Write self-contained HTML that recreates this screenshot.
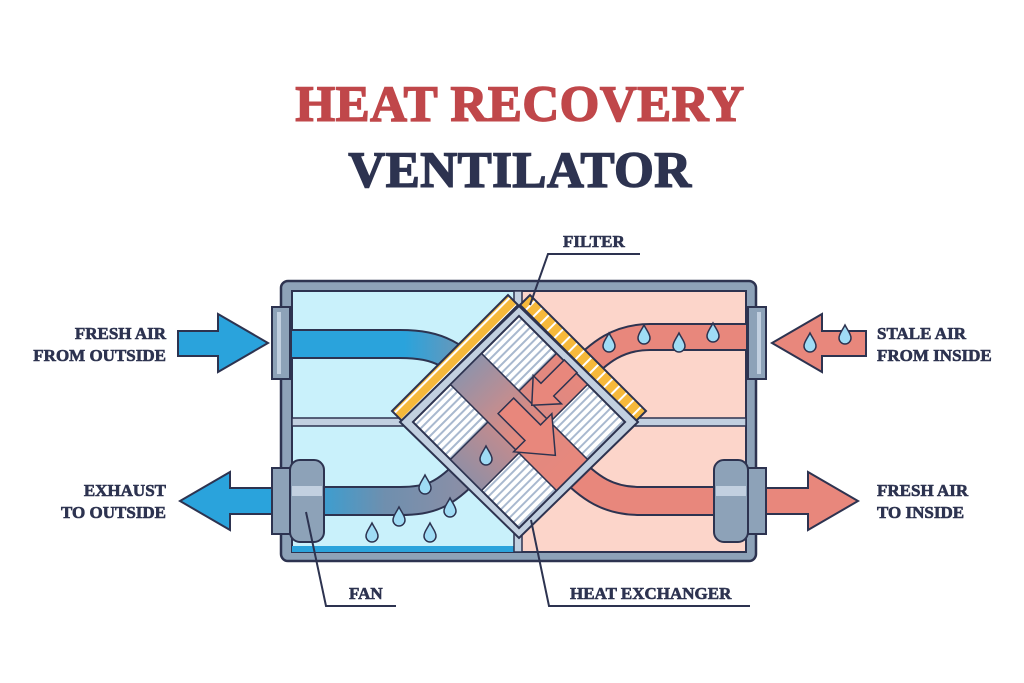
<!DOCTYPE html>
<html><head><meta charset="utf-8"><style>
html,body{margin:0;padding:0;background:#fff;}
svg{display:block}
.t{font-family:"Liberation Serif",serif;font-weight:bold;}
</style></head><body>
<svg width="1024" height="683" viewBox="0 0 1024 683" xmlns="http://www.w3.org/2000/svg">
<defs>
<linearGradient id="gTL" x1="292" y1="0" x2="480" y2="0" gradientUnits="userSpaceOnUse">
<stop offset="0" stop-color="#2aa3dc"/><stop offset="0.6" stop-color="#2aa3dc"/><stop offset="1" stop-color="#7f93ad"/></linearGradient>
<linearGradient id="gBL" x1="300" y1="0" x2="470" y2="0" gradientUnits="userSpaceOnUse">
<stop offset="0" stop-color="#2aa3dc"/><stop offset="0.5" stop-color="#6f8fae"/><stop offset="1" stop-color="#8d8fa6"/></linearGradient>
<linearGradient id="s1" x1="-82" y1="0" x2="82" y2="0" gradientUnits="userSpaceOnUse">
<stop offset="0" stop-color="#8a93ad"/><stop offset="0.55" stop-color="#e08a80"/><stop offset="1" stop-color="#e8877c"/></linearGradient>
<linearGradient id="s2" x1="0" y1="-82" x2="0" y2="82" gradientUnits="userSpaceOnUse">
<stop offset="0" stop-color="#e8877c"/><stop offset="0.45" stop-color="#d98a84"/><stop offset="1" stop-color="#8d8fa6"/></linearGradient>
<pattern id="hatch" width="6" height="6" patternUnits="userSpaceOnUse">
<rect width="6" height="6" fill="#fff"/><rect width="2" height="6" fill="#a9b9cf"/></pattern>
<pattern id="yel" width="10" height="10" patternUnits="userSpaceOnUse" patternTransform="rotate(45)">
<rect width="10" height="10" fill="#f6b93b"/><rect width="2" height="10" fill="#fff"/></pattern>
<clipPath id="inner"><rect x="292" y="291" width="454" height="261"/></clipPath>
</defs>

<text class="t" x="520" y="121" font-size="51" fill="#c0474a" stroke="#c0474a" stroke-width="1.5" text-anchor="middle" letter-spacing="0.5">HEAT RECOVERY</text>
<text class="t" x="520" y="187" font-size="51" fill="#2d3350" stroke="#2d3350" stroke-width="1.5" text-anchor="middle" letter-spacing="0.5">VENTILATOR</text>

<rect x="281" y="281" width="475" height="280" rx="7" fill="#8da2b8" stroke="#2d3350" stroke-width="2.5"/>
<rect x="292" y="291" width="226" height="261" fill="#c9f1fb" stroke="#2d3350" stroke-width="2"/>
<rect x="518" y="291" width="228" height="261" fill="#fcd5ca" stroke="#2d3350" stroke-width="2"/>
<rect x="292" y="546" width="226" height="6" fill="#2aa3dc"/>
<rect x="292" y="418" width="454" height="8" fill="#c2d0e0" stroke="#2d3350" stroke-width="1.5"/>
<rect x="514" y="291" width="8" height="261" fill="#c2d0e0" stroke="#2d3350" stroke-width="1.5"/>

<g clip-path="url(#inner)" fill="none">
<path d="M285 344 L400 344 C440 344 455 355 485 385" stroke="#2d3350" stroke-width="30"/>
<path d="M285 344 L400 344 C440 344 455 355 485 385" stroke="url(#gTL)" stroke-width="26"/>
<path d="M760 337 L650 337 C620 337 600 350 575 378" stroke="#2d3350" stroke-width="28"/>
<path d="M760 337 L650 337 C620 337 600 350 575 378" stroke="#e8877c" stroke-width="24"/>
<path d="M300 501 L400 501 C430 501 445 495 470 468" stroke="#2d3350" stroke-width="30"/>
<path d="M300 501 L400 501 C430 501 445 495 470 468" stroke="url(#gBL)" stroke-width="26"/>
<path d="M740 501 L640 501 C610 501 590 490 565 462" stroke="#2d3350" stroke-width="30"/>
<path d="M740 501 L640 501 C610 501 590 490 565 462" stroke="#e8877c" stroke-width="26"/>
</g>
<polygon points="392,411 508,295 518,305 402,421" fill="url(#yel)" stroke="#2d3350" stroke-width="2"/>
<polygon points="520,305 530,295 646,411 636,421" fill="url(#yel)" stroke="#2d3350" stroke-width="2"/>
<polygon points="519,306 638,422 519,538 400,422" fill="#c2d0e0" stroke="#2d3350" stroke-width="2"/>
<g transform="translate(519,422) rotate(45)">
<rect x="-75" y="-75" width="150" height="150" fill="url(#hatch)" stroke="#2d3350" stroke-width="2"/>
<rect x="-22" y="-75" width="44" height="150" fill="url(#s2)" stroke="#2d3350" stroke-width="1.5"/>
<rect x="-75" y="-22" width="150" height="44" fill="url(#s1)" stroke="#2d3350" stroke-width="1.5"/>
</g>
<!-- inner arrows -->
<g transform="translate(553,384) rotate(45)">
<polygon points="-9,-25 9,-25 9,8 20,8 0,30 -20,8 -9,8" fill="#e8877c" stroke="#2d3350" stroke-width="1.5"/>
</g>
<g transform="translate(520,420) rotate(45)">
<polygon points="-20,-11 18,-11 18,-27 50,0 18,27 18,11 -20,11" fill="#e8877c" stroke="#2d3350" stroke-width="1.5"/>
</g>

<rect x="272" y="307" width="18" height="72" fill="#8da2b8" stroke="#2d3350" stroke-width="2"/>
<rect x="748" y="307" width="18" height="72" fill="#8da2b8" stroke="#2d3350" stroke-width="2"/>
<rect x="272" y="468" width="18" height="66" fill="#8da2b8" stroke="#2d3350" stroke-width="2"/>
<rect x="748" y="468" width="18" height="66" fill="#8da2b8" stroke="#2d3350" stroke-width="2"/>
<rect x="277" y="312" width="4" height="62" fill="#c2d0e0"/>
<rect x="757" y="312" width="4" height="62" fill="#c2d0e0"/>
<rect x="290" y="460" width="34" height="82" rx="10" fill="#8da2b8" stroke="#2d3350" stroke-width="2"/>
<rect x="292" y="486" width="30" height="10" fill="#c2d0e0"/>
<rect x="714" y="460" width="34" height="82" rx="10" fill="#8da2b8" stroke="#2d3350" stroke-width="2"/>
<rect x="716" y="486" width="30" height="10" fill="#c2d0e0"/>

<polygon points="178,331 218,331 218,314 268,343 218,372 218,356 178,356" fill="#2aa3dc" stroke="#2d3350" stroke-width="2"/>
<polygon points="272,488 230,488 230,472 180,501 230,530 230,514 272,514" fill="#2aa3dc" stroke="#2d3350" stroke-width="2"/>
<polygon points="866,331 822,331 822,314 772,343 822,372 822,356 866,356" fill="#e8877c" stroke="#2d3350" stroke-width="2"/>
<polygon points="766,488 808,488 808,472 858,501 808,530 808,514 766,514" fill="#e8877c" stroke="#2d3350" stroke-width="2"/>

<g fill="#9fdcf5" stroke="#2d3350" stroke-width="1.5">
<path d="M0,-10 C3,-4 6,-1 6,3 A6,6 0 0 1 -6,3 C-6,-1 -3,-4 0,-10Z" transform="translate(609,343)"/>
<path d="M0,-10 C3,-4 6,-1 6,3 A6,6 0 0 1 -6,3 C-6,-1 -3,-4 0,-10Z" transform="translate(644,335)"/>
<path d="M0,-10 C3,-4 6,-1 6,3 A6,6 0 0 1 -6,3 C-6,-1 -3,-4 0,-10Z" transform="translate(679,343)"/>
<path d="M0,-10 C3,-4 6,-1 6,3 A6,6 0 0 1 -6,3 C-6,-1 -3,-4 0,-10Z" transform="translate(713,333)"/>
<path d="M0,-10 C3,-4 6,-1 6,3 A6,6 0 0 1 -6,3 C-6,-1 -3,-4 0,-10Z" transform="translate(810,343)"/>
<path d="M0,-10 C3,-4 6,-1 6,3 A6,6 0 0 1 -6,3 C-6,-1 -3,-4 0,-10Z" transform="translate(845,335)"/>
<path d="M0,-10 C3,-4 6,-1 6,3 A6,6 0 0 1 -6,3 C-6,-1 -3,-4 0,-10Z" transform="translate(486,456)"/>
<path d="M0,-10 C3,-4 6,-1 6,3 A6,6 0 0 1 -6,3 C-6,-1 -3,-4 0,-10Z" transform="translate(425,485)"/>
<path d="M0,-10 C3,-4 6,-1 6,3 A6,6 0 0 1 -6,3 C-6,-1 -3,-4 0,-10Z" transform="translate(450,508)"/>
<path d="M0,-10 C3,-4 6,-1 6,3 A6,6 0 0 1 -6,3 C-6,-1 -3,-4 0,-10Z" transform="translate(399,517)"/>
<path d="M0,-10 C3,-4 6,-1 6,3 A6,6 0 0 1 -6,3 C-6,-1 -3,-4 0,-10Z" transform="translate(372,533)"/>
<path d="M0,-10 C3,-4 6,-1 6,3 A6,6 0 0 1 -6,3 C-6,-1 -3,-4 0,-10Z" transform="translate(430,533)"/>
</g>

<g class="t" font-size="17" fill="#2d3350" stroke="#2d3350" stroke-width="0.6">
<text x="166" y="339" text-anchor="end">FRESH AIR</text>
<text x="166" y="361" text-anchor="end">FROM OUTSIDE</text>
<text x="166" y="496" text-anchor="end">EXHAUST</text>
<text x="166" y="518" text-anchor="end">TO OUTSIDE</text>
<text x="877" y="339">STALE AIR</text>
<text x="877" y="361">FROM INSIDE</text>
<text x="877" y="496">FRESH AIR</text>
<text x="877" y="518">TO INSIDE</text>
<text x="563" y="247">FILTER</text>
<text x="349" y="599">FAN</text>
<text x="570" y="599">HEAT EXCHANGER</text>
</g>
<g stroke="#2d3350" stroke-width="2" fill="none">
<path d="M640 254 L548 254 L530 305"/>
<path d="M396 606 L326 606 L306 512"/>
<path d="M750 606 L549 606 L531 520"/>
</g>
</svg>
</body></html>
